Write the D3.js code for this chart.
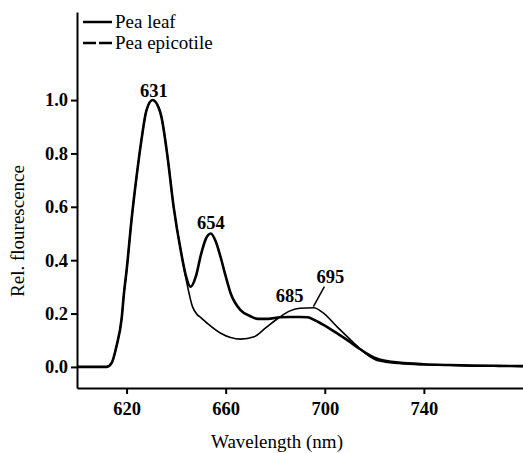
<!DOCTYPE html>
<meta charset="utf-8">
<style>
body { margin: 0; background: #fff; }
svg text { fill: #000; }
.axis path, .axis line { stroke: #000; stroke-width: 2px; }
.axis text { font-size: 18.5px; font-weight: bold; }
.line { fill: none; stroke: #000; }
</style>
<body>
<script src="https://cdn.jsdelivr.net/npm/d3@7"></script>
<script>
// wavelength (nm) and relative fluorescence
var leafX = [600,612,614,616,618,619,620,622,624,626,628,630.5,633,634,636.5,639,642,644,645.8,648,650,652,654,656,658,660,662,666,670,673,677,682,686,690,693,696,700,705,710,714,717,720,725,730,740,750,760,770,780];
var leafY = [0,0,0.015,0.08,0.18,0.28,0.36,0.55,0.71,0.85,0.96,1.0,0.97,0.94,0.79,0.6,0.43,0.34,0.3,0.34,0.42,0.48,0.5,0.47,0.41,0.34,0.276,0.213,0.19,0.18,0.18,0.186,0.187,0.187,0.186,0.175,0.155,0.126,0.095,0.068,0.05,0.035,0.022,0.016,0.01,0.007,0.005,0.004,0.003];

var epiX = [600,612,614,616,618,619,620,622,624,626,628,630.5,633,634,636.5,639,642,644,646.6,648.6,650,653,658,662,666,671.5,676,682,686,690,695.6,699,705,710,714,718,722,730,740,750,760,770,780];
var epiY = [0,0,0.015,0.08,0.18,0.28,0.36,0.55,0.71,0.85,0.96,1.0,0.97,0.94,0.79,0.6,0.43,0.33,0.226,0.195,0.185,0.16,0.126,0.11,0.104,0.113,0.145,0.188,0.21,0.22,0.222,0.205,0.15,0.105,0.07,0.04,0.022,0.013,0.008,0.006,0.004,0.003,0.002];

var xTicks = [620, 660, 700, 740];
var yTicks = [0, 0.2, 0.4, 0.6, 0.8, 1.0];

var peakLabels = ["631", "654", "685", "695"];
var peakX = [631, 654, 685, 695];
var peakY = [1.0, 0.5, 0.19, 0.225];

var width = 523, height = 453;
var serif = '"Times New Roman", Times, Tinos, "Liberation Serif", "Nimbus Roman", "Noto Serif", FreeSerif, "DejaVu Serif", serif';

var svg = d3.select("body").append("svg")
    .attr("width", width)
    .attr("height", height)
    .attr("font-family", serif);

var x = d3.scaleLinear().domain([600, 780]).range([77, 523]);
var y = d3.scaleLinear().domain([-0.079, 1.33]).range([388, 12]);

// axes
svg.append("g")
    .attr("class", "axis")
    .attr("transform", "translate(0,388)")
    .call(d3.axisBottom(x).tickValues(xTicks).tickSize(6).tickSizeOuter(0).tickPadding(8).tickFormat(d3.format("d")));

svg.append("g")
    .attr("class", "axis")
    .attr("transform", "translate(77,0)")
    .call(d3.axisLeft(y).tickValues(yTicks).tickSize(6).tickSizeOuter(0).tickPadding(3).tickFormat(d3.format(".1f")));

svg.selectAll(".axis").attr("font-family", serif).attr("font-size", null);
svg.selectAll(".axis .domain").attr("stroke-width", 2.5);

// axis titles
svg.append("text")
    .attr("x", 277).attr("y", 448)
    .attr("text-anchor", "middle")
    .attr("font-size", 19)
    .text("Wavelength (nm)");

svg.append("text")
    .attr("transform", "translate(24,231) rotate(-90)")
    .attr("text-anchor", "middle")
    .attr("font-size", 19)
    .text("Rel. flourescence");

// curves
var line = d3.line().curve(d3.curveMonotoneX);

svg.append("path")
    .attr("class", "line")
    .attr("stroke-width", 1.6)
    .attr("d", line(epiX.map(function(d, i) { return [x(d), y(epiY[i])]; })));

svg.append("path")
    .attr("class", "line")
    .attr("stroke-width", 2.6)
    .attr("d", line(leafX.map(function(d, i) { return [x(d), y(leafY[i])]; })));

// peak labels
var labelDx = [0, 0, 2, 18];
var labelDy = [-3, -4, -14, -24];
svg.selectAll(".peak")
    .data(peakLabels)
  .enter().append("text")
    .attr("class", "peak")
    .attr("x", function(d, i) { return x(peakX[i]) + labelDx[i]; })
    .attr("y", function(d, i) { return y(peakY[i]) + labelDy[i]; })
    .attr("text-anchor", "middle")
    .attr("font-size", 18.5)
    .attr("font-weight", "bold")
    .text(function(d) { return d; });

// leader line for 695
svg.append("line")
    .attr("x1", x(695) + 1).attr("y1", y(0.222) - 1)
    .attr("x2", x(695) + 12).attr("y2", y(0.222) - 21)
    .attr("stroke", "#000").attr("stroke-width", 1.5);

// legend
var legendNames = ["Pea leaf", "Pea epicotile"];
var legendDash = [null, "13,3"];
var legend = svg.selectAll(".legend")
    .data(legendNames)
  .enter().append("g")
    .attr("class", "legend")
    .attr("transform", function(d, i) { return "translate(83," + (22 + i * 21) + ")"; });

legend.append("line")
    .attr("x1", 0).attr("x2", 29)
    .attr("stroke", "#000").attr("stroke-width", 2.5)
    .attr("stroke-dasharray", function(d, i) { return legendDash[i]; });

legend.append("text")
    .attr("x", 32).attr("y", 6)
    .attr("font-size", 19)
    .text(function(d) { return d; });
</script>
</body>
